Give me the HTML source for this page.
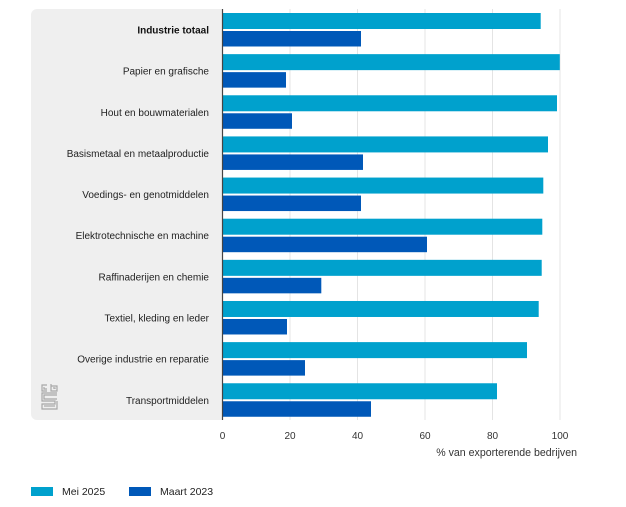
<!DOCTYPE html>
<html><head><meta charset="utf-8"><style>
html,body{margin:0;padding:0;background:#fff;}
svg{display:block;font-family:"Liberation Sans",Arial,sans-serif;}
</style></head><body>
<svg width="626" height="507" viewBox="0 0 626 507" xmlns="http://www.w3.org/2000/svg">
<rect x="31" y="9" width="196" height="411" rx="6" ry="6" fill="#efefef"/>
<rect x="222" y="9" width="10" height="411" fill="#fff"/>
<g stroke="#e4e4e4" stroke-width="1">
<line x1="290" y1="9" x2="290" y2="420"/>
<line x1="357.5" y1="9" x2="357.5" y2="420"/>
<line x1="425" y1="9" x2="425" y2="420"/>
<line x1="492.5" y1="9" x2="492.5" y2="420"/>
<line x1="560" y1="9" x2="560" y2="420"/>
</g>
<g fill="#00a1cd">
<rect x="222.5" y="13" width="318.2" height="16"/>
<rect x="222.5" y="54.14" width="337.3" height="16"/>
<rect x="222.5" y="95.28" width="334.5" height="16"/>
<rect x="222.5" y="136.42" width="325.5" height="16"/>
<rect x="222.5" y="177.56" width="320.8" height="16"/>
<rect x="222.5" y="218.7" width="319.8" height="16"/>
<rect x="222.5" y="259.84" width="319.2" height="16"/>
<rect x="222.5" y="300.98" width="316.2" height="16"/>
<rect x="222.5" y="342.12" width="304.5" height="16"/>
<rect x="222.5" y="383.26" width="274.5" height="16"/>
</g>
<g fill="#0058b8">
<rect x="222.5" y="31" width="138.5" height="15.5"/>
<rect x="222.5" y="72.14" width="63.5" height="15.5"/>
<rect x="222.5" y="113.28" width="69.5" height="15.5"/>
<rect x="222.5" y="154.42" width="140.5" height="15.5"/>
<rect x="222.5" y="195.56" width="138.5" height="15.5"/>
<rect x="222.5" y="236.7" width="204.5" height="15.5"/>
<rect x="222.5" y="277.84" width="98.8" height="15.5"/>
<rect x="222.5" y="318.98" width="64.5" height="15.5"/>
<rect x="222.5" y="360.12" width="82.5" height="15.5"/>
<rect x="222.5" y="401.26" width="148.5" height="15.5"/>
</g>
<line x1="222.5" y1="9" x2="222.5" y2="420" stroke="#444" stroke-width="1.2"/>
<g font-size="10" fill="#222" text-anchor="end">
<text x="209" y="33.5" font-weight="bold" fill="#111">Industrie totaal</text>
<text x="209" y="74.6">Papier en grafische</text>
<text x="209" y="115.8">Hout en bouwmaterialen</text>
<text x="209" y="156.9">Basismetaal en metaalproductie</text>
<text x="209" y="198.1">Voedings- en genotmiddelen</text>
<text x="209" y="239.2">Elektrotechnische en machine</text>
<text x="209" y="280.3">Raffinaderijen en chemie</text>
<text x="209" y="321.5">Textiel, kleding en leder</text>
<text x="209" y="362.6">Overige industrie en reparatie</text>
<text x="209" y="403.8">Transportmiddelen</text>
</g>
<g font-size="10" fill="#333" text-anchor="middle">
<text x="222.5" y="439">0</text>
<text x="290" y="439">20</text>
<text x="357.5" y="439">40</text>
<text x="425" y="439">60</text>
<text x="492.5" y="439">80</text>
<text x="560" y="439">100</text>
</g>
<text x="577" y="456" font-size="10.6" fill="#333" text-anchor="end">% van exporterende bedrijven</text>
<g fill="none" stroke="#a8a8a8" stroke-width="1.2">
<path d="M47 385 H42 V391 H47"/>
<path d="M44 387 V389 H47"/>
<path d="M51 384 V391 H57 V386 H51"/>
<path d="M53 388 H55 V389"/>
<path d="M57 393 H42 V401 H55 V404 H42 V409 H57 V401"/>
<path d="M57 395 H44 V399 H57"/>
<path d="M44 406 H55"/>
</g>
<rect x="31" y="487" width="22" height="9" fill="#00a1cd"/>
<text x="62" y="495" font-size="10.5" fill="#222">Mei 2025</text>
<rect x="129" y="487" width="22" height="9" fill="#0058b8"/>
<text x="160" y="495" font-size="10.5" fill="#222">Maart 2023</text>
</svg>
</body></html>
